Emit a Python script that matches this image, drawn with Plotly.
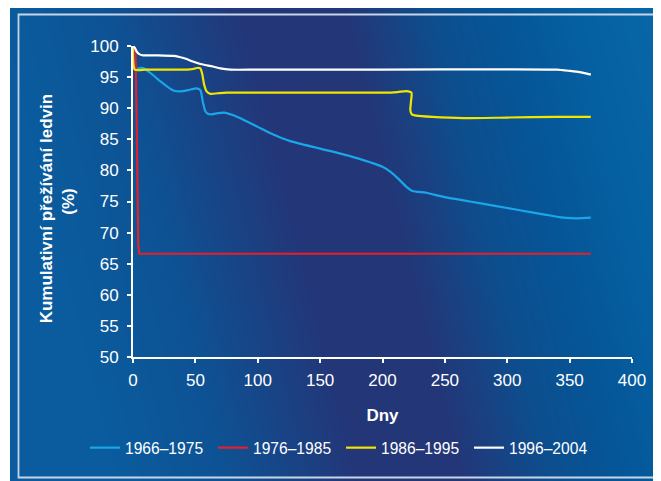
import base64
import struct
import zlib

import numpy as np
import plotly.graph_objects as go

# ---------------- data ----------------
series_names = ["1966–1975", "1976–1985", "1986–1995", "1996–2004"]
series_colors = ["#1aa6e8", "#e5202a", "#f2e600", "#ffffff"]

x_1966 = [0, 1, 3, 6, 9, 15, 22, 28, 33, 38, 44, 51, 54, 56, 58, 60, 63, 68, 73, 80,
          90, 100, 112, 126, 150, 174, 190, 200, 207, 213, 219, 224, 235, 250, 270,
          290, 310, 330, 345, 356, 367]
y_1966 = [100, 96.3, 96.3, 96.5, 96.4, 95.5, 94.3, 93.4, 92.8, 92.7, 92.9, 93.2, 92.9,
          91.0, 89.5, 89.1, 89.0, 89.2, 89.3, 88.9, 88.0, 87.0, 85.8, 84.7, 83.5, 82.3,
          81.3, 80.6, 79.7, 78.6, 77.4, 76.7, 76.4, 75.7, 75.0, 74.3, 73.6, 72.9, 72.4,
          72.3, 72.4]

x_1976 = [0.5, 2, 2.8, 3.2, 3.6, 4.2, 5, 367]
y_1976 = [100, 99, 90, 80, 72, 68, 66.6, 66.6]

x_1986 = [0, 1.5, 10, 30, 43, 48, 52, 54, 55.5, 57, 59, 62, 68, 75, 100, 150, 200, 212,
          219, 223.2, 222.8, 222.3, 223.5, 227, 240, 265, 300, 340, 367]
y_1986 = [100, 96.2, 96.2, 96.2, 96.2, 96.3, 96.5, 96.4, 95.5, 93.8, 92.7, 92.3, 92.4,
          92.5, 92.5, 92.5, 92.5, 92.6, 92.75, 92.5, 91.0, 89.7, 89.0, 88.8, 88.6, 88.4,
          88.5, 88.6, 88.6]

x_1996 = [0, 1.5, 3, 5, 8, 20, 33, 38, 43, 48, 54, 59, 64, 70, 78, 100, 200, 300, 340,
          350, 358, 367]
y_1996 = [100, 99.7, 99.1, 98.7, 98.5, 98.5, 98.4, 98.2, 97.9, 97.5, 97.1, 96.9, 96.7,
          96.4, 96.2, 96.2, 96.2, 96.25, 96.2, 96.0, 95.8, 95.4]

series_x = [x_1966, x_1976, x_1986, x_1996]
series_y = [y_1966, y_1976, y_1986, y_1996]
series_shape = ["spline", "linear", "spline", "spline"]

x_ticks = [0, 50, 100, 150, 200, 250, 300, 350, 400]
y_ticks = [50, 55, 60, 65, 70, 75, 80, 85, 90, 95, 100]

x_title = "Dny"
y_title = "Kumulativní přežívání ledvin\u00a0\u00a0\u00a0<br>(%)"

# ---------------- layout geometry ----------------
# The page body has an 8px margin, so the figure is sized to fit inside the window
OFF = 8
W, H = 661 - OFF, 481 - OFF
PL, PR, PT, PB = 133 - OFF, 632 - OFF, 46 - OFF, 357 - OFF  # plot area in figure px
PW, PH = PR - PL, PB - PT


def px_x(sx):  # screen px -> paper
    return (sx - OFF - PL) / PW


def px_y(sy):
    return (PB - (sy - OFF)) / PH


# ---------------- background gradient image ----------------
def png_uri(arr):
    h, w, _ = arr.shape
    raw = b"".join(b"\x00" + arr[i].tobytes() for i in range(h))

    def chunk(t, d):
        c = struct.pack(">I", len(d)) + t + d
        return c + struct.pack(">I", zlib.crc32(t + d) & 0xFFFFFFFF)

    png = (b"\x89PNG\r\n\x1a\n"
           + chunk(b"IHDR", struct.pack(">IIBBBBB", w, h, 8, 2, 0, 0, 0))
           + chunk(b"IDAT", zlib.compress(raw, 9))
           + chunk(b"IEND", b""))
    return "data:image/png;base64," + base64.b64encode(png).decode()


bx0, by0 = 10, 8           # screen px where the blue panel starts
bw, bh = 661 - bx0, 481 - by0
yy, xx = np.mgrid[0:bh, 0:bw].astype(float)
u = (xx + bx0) - 0.25 * yy
stops_u = [0, 110, 240, 340, 430, 500, 580, 700]
stops_c = np.array([[10, 92, 158], [14, 82, 148], [35, 55, 121], [36, 54, 119],
                    [14, 78, 142], [5, 86, 152], [6, 97, 162], [10, 106, 172]], float)
img = np.zeros((bh, bw, 3))
for k in range(3):
    img[..., k] = np.interp(u, stops_u, stops_c[:, k])
img = np.clip(img, 0, 255).astype(np.uint8)

# ---------------- figure ----------------
fig = go.Figure()
for name, color, xs, ys, shp in zip(series_names, series_colors, series_x, series_y, series_shape):
    fig.add_trace(go.Scatter(
        x=xs, y=ys, name=name, mode="lines",
        line=dict(color=color, width=2.2, shape=shp, smoothing=0.6),
    ))

font_family = "Liberation Sans, Arial, Helvetica, sans-serif"

fig.update_layout(
    width=W, height=H,
    margin=dict(l=PL, r=W - PR, t=PT, b=H - PB, pad=0),
    paper_bgcolor="white",
    plot_bgcolor="rgba(0,0,0,0)",
    font=dict(family=font_family, color="white", size=17),
    showlegend=True,
    legend=dict(
        orientation="h", x=px_x(85), xanchor="left", y=px_y(448), yanchor="middle",
        bgcolor="rgba(0,0,0,0)", font=dict(size=15.6, color="white"),
        entrywidth=83, entrywidthmode="pixels", tracegroupgap=0,
    ),
    images=[dict(
        source=png_uri(img), xref="paper", yref="paper",
        x=px_x(bx0), y=px_y(by0), sizex=bw / PW, sizey=bh / PH,
        xanchor="left", yanchor="top", sizing="stretch", layer="below",
    )],
    shapes=[dict(
        type="rect", xref="paper", yref="paper",
        x0=px_x(18.5), x1=px_x(720), y0=px_y(477.5), y1=px_y(14.5),
        line=dict(color="#c7d5e6", width=1.8), fillcolor="rgba(0,0,0,0)", layer="above",
    )],
)

fig.update_xaxes(
    range=[0, 400], tickvals=x_ticks, showgrid=False, zeroline=False,
    showline=True, linecolor="white", linewidth=2,
    ticks="outside", ticklen=4, tickwidth=2, tickcolor="white",
    tickfont=dict(size=17, color="white"), ticklabelstandoff=3,
    title=dict(text="<b>" + x_title + "</b>", font=dict(size=17, color="white"), standoff=20),
)
fig.update_yaxes(
    range=[50, 100], tickvals=y_ticks, showgrid=False, zeroline=False,
    showline=True, linecolor="white", linewidth=2,
    ticks="outside", ticklen=4, tickwidth=2, tickcolor="white",
    tickfont=dict(size=17, color="white"), ticklabelstandoff=5,
    title=dict(text="<b>" + y_title + "</b>", font=dict(size=17, color="white"), standoff=11),
)

fig.write_html("out.html")
